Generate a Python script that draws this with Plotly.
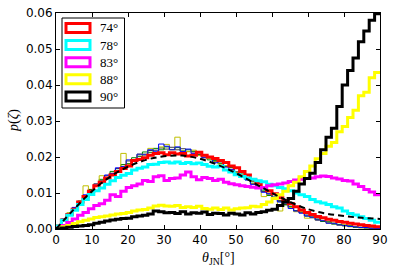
import numpy as np
import plotly.graph_objects as go

# ---- data (probability density values in units of 1e-3) ----
bin_width_deg = 1.5
theta_max = 90

red_74 = [0.8, 2.5, 4.0, 5.5, 7.5, 9.0, 10.5, 12.0, 13.0, 14.2,
          15.0, 16.0, 16.8, 17.5, 19.0, 19.3, 19.8, 20.5, 21.0, 21.2,
          20.6, 21.2, 20.8, 21.0, 20.3, 20.5, 21.3, 20.5, 20.0, 19.6,
          19.0, 18.5, 17.5, 17.0, 16.0, 15.0, 13.7, 12.8, 11.5, 10.6,
          9.8, 8.7, 7.9, 7.0, 6.2, 5.3, 4.6, 4.0, 3.5, 3.1,
          2.7, 2.4, 2.1, 1.9, 1.6, 1.4, 1.2, 1.0, 0.8, 0.6]
cyan_78 = [0.8, 2.4, 3.8, 5.2, 6.8, 8.2, 9.6, 10.6, 11.4, 12.4,
           13.4, 14.3, 14.9, 15.4, 16.4, 16.9, 17.2, 17.9, 18.0, 18.5,
           18.6, 18.3, 18.6, 18.2, 18.5, 18.1, 18.3, 17.9, 17.4, 17.2,
           17.4, 16.4, 15.8, 15.1, 14.6, 14.2, 13.8, 13.4, 13.1, 12.4,
           12.0, 11.5, 11.2, 10.6, 10.0, 9.5, 9.0, 8.2, 7.6, 7.2,
           6.8, 6.2, 5.8, 5.0, 4.3, 3.9, 3.4, 2.9, 2.4, 1.9]
magenta_83 = [0.3, 1.0, 1.8, 2.8, 3.8, 4.6, 5.6, 6.5, 7.0, 8.0,
              9.5, 9.0, 10.5, 11.5, 12.0, 12.5, 13.5, 13.2, 14.5, 14.8,
              13.5, 14.0, 14.2, 15.0, 15.8, 14.5, 13.7, 14.3, 14.0, 13.5,
              13.8, 13.0, 12.6, 12.3, 12.0, 11.8, 11.6, 11.4, 11.5, 12.0,
              12.3, 12.5, 12.8, 13.2, 13.6, 13.8, 14.0, 14.2, 14.5, 14.7,
              14.6, 14.2, 13.9, 13.5, 13.3, 12.5, 11.8, 11.0, 10.3, 9.5]
yellow_88 = [0.2, 0.6, 1.0, 1.5, 2.0, 2.4, 2.8, 3.2, 3.4, 3.6,
             3.9, 4.2, 4.3, 4.6, 5.0, 5.3, 5.4, 5.8, 6.4, 6.6,
             6.4, 6.3, 6.5, 6.0, 6.2, 6.0, 6.3, 5.7, 5.5, 5.8,
             5.4, 5.8, 5.3, 5.6, 5.8, 5.9, 6.3, 6.2, 6.8, 7.5,
             8.5, 9.5, 10.5, 12.0, 13.0, 14.5, 16.0, 17.5, 19.5, 21.0,
             23.0, 24.0, 27.0, 28.5, 31.0, 33.0, 37.0, 38.0, 42.0, 43.5]
black_90 = [0.1, 0.3, 0.5, 0.7, 0.8, 1.0, 1.2, 1.6, 1.9, 2.2,
            2.5, 2.7, 2.9, 3.0, 3.4, 3.6, 3.8, 4.2, 5.0, 4.8,
            4.5, 4.6, 4.3, 4.8, 4.2, 4.5, 4.4, 4.7, 4.0, 4.4,
            4.3, 3.9, 4.4, 4.2, 3.9, 4.5, 4.2, 4.6, 4.8, 5.2,
            5.5, 6.5, 7.5, 8.5, 10.5, 12.5, 14.0, 15.5, 18.5, 22.0,
            25.5, 28.0, 34.0, 40.0, 44.0, 47.5, 52.0, 55.0, 58.0, 59.8]

thin_blue = [0.7, 2.8, 4.0, 6.0, 7.2, 9.5, 10.6, 12.5, 13.2, 15.0,
             15.4, 17.0, 17.3, 19.2, 19.0, 20.8, 20.6, 22.0, 21.6, 23.6,
             23.0, 22.0, 22.8, 21.5, 22.2, 21.0, 21.2, 19.8, 19.9, 18.4,
             18.8, 17.2, 16.5, 15.4, 14.6, 13.6, 12.4, 12.0, 10.2, 9.8,
             8.4, 7.5, 7.2, 5.7, 5.0, 4.4, 3.6, 3.3, 2.5, 2.3,
             1.6, 1.6, 1.1, 1.0, 0.7, 0.6, 0.4, 0.4, 0.2, 0.1]
thin_green = [0.9, 2.4, 4.4, 5.5, 7.8, 8.9, 11.0, 11.9, 13.8, 14.2,
              16.0, 16.3, 17.9, 18.2, 19.8, 20.1, 21.4, 21.3, 22.4, 22.0,
              22.8, 22.1, 22.6, 21.7, 22.0, 21.6, 20.5, 20.5, 19.2, 19.0,
              18.2, 17.4, 17.1, 15.6, 15.3, 13.7, 13.1, 11.5, 10.8, 9.3,
              8.9, 7.6, 6.7, 6.3, 5.0, 4.7, 3.6, 3.4, 2.6, 2.1,
              2.0, 1.4, 1.3, 0.9, 0.9, 0.5, 0.5, 0.3, 0.3, 0.1]
thin_olive = [1.0, 2.5, 4.5, 5.6, 7.2, 12.0, 10.2, 12.6, 14.8, 14.0,
              15.2, 16.2, 21.0, 18.0, 19.2, 20.8, 20.5, 22.4, 21.2, 22.8,
              23.5, 22.0, 25.5, 21.6, 21.5, 21.9, 20.4, 19.8, 19.6, 18.6,
              18.0, 17.6, 16.4, 15.6, 14.5, 14.3, 12.5, 12.0, 9.0, 10.0,
              8.3, 5.0, 7.5, 6.0, 4.8, 4.8, 3.0, 3.6, 2.4, 2.4,
              1.6, 1.7, 1.0, 1.2, 0.6, 0.7, 0.3, 0.5, 0.2, 0.2]
thin_gray = [0.8, 2.7, 4.0, 5.9, 7.6, 9.1, 10.9, 12.0, 13.4, 14.8,
             15.5, 16.8, 17.4, 18.9, 19.3, 20.6, 20.8, 21.8, 21.9, 22.5,
             22.2, 22.7, 22.0, 22.3, 21.5, 21.4, 20.7, 20.0, 19.6, 18.8,
             18.6, 17.5, 17.0, 15.9, 14.9, 14.1, 12.6, 11.9, 10.4, 9.7,
             8.6, 7.9, 6.8, 6.1, 5.1, 4.5, 3.9, 3.1, 2.8, 2.1,
             1.9, 1.4, 1.2, 0.9, 0.8, 0.5, 0.4, 0.3, 0.2, 0.1]

# reference (dashed) curve
ref_theta = [0, 5, 10, 15, 20, 25, 30, 35, 40, 45, 50, 55, 60, 65, 70, 75, 80, 85, 90]
ref_vals = [0.0, 5.5, 10.5, 14.5, 17.3, 19.2, 20.2, 20.4, 19.5, 17.8, 15.5, 12.8,
            10.0, 7.5, 5.5, 4.3, 3.6, 3.1, 2.8]

legend_labels = ["74°", "78°", "83°", "88°", "90°"]
x_ticks = [0, 10, 20, 30, 40, 50, 60, 70, 80, 90]
y_ticks = [0.0, 0.01, 0.02, 0.03, 0.04, 0.05, 0.06]

SCALE = 1e-3
n_bins = int(round(theta_max / bin_width_deg))
edges = np.linspace(0, theta_max, n_bins + 1)


def step_trace(vals, color, width):
    v = np.asarray(vals, dtype=float) * SCALE
    y = np.concatenate([[0.0], v, [v[-1]]])
    x = np.concatenate([[0.0], edges])
    return go.Scatter(x=x, y=y, mode="lines", line=dict(color=color, width=width, shape="hv"),
                      showlegend=False, hoverinfo="skip")


fig = go.Figure()
for vals, col in [(thin_gray, "#3f3f3f"), (thin_green, "#008000"),
                  (thin_olive, "#bfbf00"), (thin_blue, "#0000ff")]:
    fig.add_trace(step_trace(vals, col, 1))

thick = [(red_74, "#ff0000"), (cyan_78, "#00ffff"), (magenta_83, "#ff00ff"),
         (yellow_88, "#ffff00"), (black_90, "#000000")]
for vals, col in thick:
    fig.add_trace(step_trace(vals, col, 3))

fig.add_trace(go.Scatter(x=ref_theta, y=np.array(ref_vals) * SCALE, mode="lines",
                         line=dict(color="black", width=2, dash="6px,4px", shape="spline"),
                         showlegend=False, hoverinfo="skip"))

W, H = 395, 274
# plot area in page pixels: left 56, right 380, top 13, bottom 229
L, R, T, B = 56, 380, 13, 229
pw, ph = R - L, B - T


def px(xp):
    return (xp - L) / pw


def py(yp):
    return (B - yp) / ph


shapes = []
annotations = []
# legend frame
shapes.append(dict(type="rect", xref="paper", yref="paper",
                   x0=px(62), x1=px(124.5), y0=py(108), y1=py(18),
                   line=dict(color="black", width=1), fillcolor="white", layer="above"))
for i, ((vals, col), lab) in enumerate(zip(thick, legend_labels)):
    yc = 28 + 17.1 * i
    shapes.append(dict(type="rect", xref="paper", yref="paper",
                       x0=px(66), x1=px(90), y0=py(yc + 4.5), y1=py(yc - 4.5),
                       line=dict(color=col, width=3), fillcolor="rgba(0,0,0,0)", layer="above"))
    annotations.append(dict(xref="paper", yref="paper", x=px(98), y=py(yc),
                            text=lab, showarrow=False, xanchor="left", yanchor="middle",
                            font=dict(family="Liberation Serif", size=13, color="black")))

annotations.append(dict(xref="paper", yref="paper", x=px(218), y=py(258),
                        text="<i>θ</i><sub>JN</sub>[°]", showarrow=False,
                        xanchor="center", yanchor="middle",
                        font=dict(family="Liberation Serif", size=14, color="black")))
annotations.append(dict(xref="paper", yref="paper", x=px(14), y=py(121),
                        text="<i>p</i>(<i>ζ</i>)", showarrow=False, textangle=-90,
                        xanchor="center", yanchor="middle",
                        font=dict(family="Liberation Serif", size=14, color="black")))

axis_common = dict(showgrid=False, zeroline=False, showline=True, linecolor="black",
                   linewidth=1, mirror="ticks", ticks="inside", ticklen=4,
                   tickwidth=1, tickcolor="black", automargin=False,
                   tickfont=dict(family="DejaVu Sans", size=12, color="black"))

fig.update_layout(
    width=W, height=H, autosize=False,
    margin=dict(l=L, r=W - R, t=T, b=H - B, pad=0, autoexpand=False),
    paper_bgcolor="white", plot_bgcolor="white",
    xaxis=dict(range=[0, theta_max], tickvals=x_ticks, **axis_common),
    yaxis=dict(range=[0, 0.06], tickvals=y_ticks, tickformat=".2f", **axis_common),
    shapes=shapes, annotations=annotations, showlegend=False,
)

# place the figure at the page origin (remove the default body margin)
fig.write_html("out.html",
               config={"displayModeBar": False, "responsive": False},
               post_script="document.body.style.margin='0';document.body.style.overflow='hidden';")
